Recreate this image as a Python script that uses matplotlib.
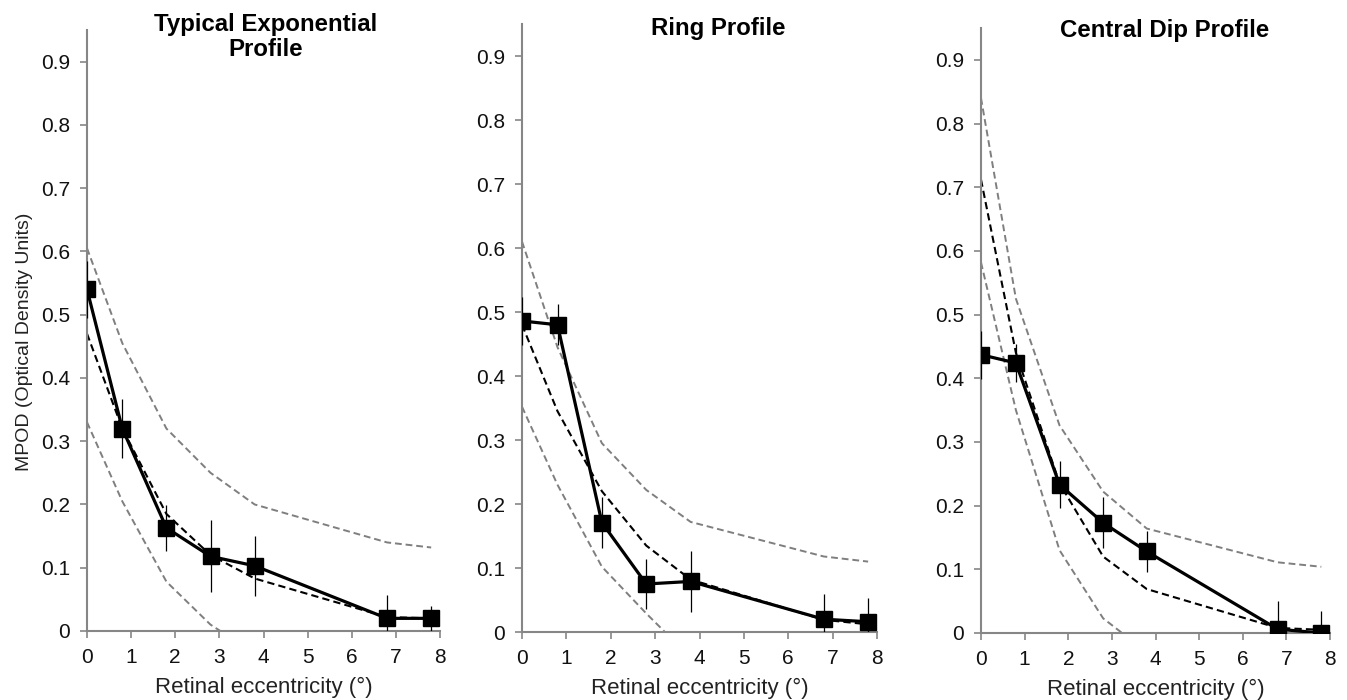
import numpy as np
import matplotlib
matplotlib.use("Agg")
import matplotlib.pyplot as plt

plt.rcParams['font.family'] = ['Liberation Sans', 'DejaVu Sans']

# retinal eccentricity (deg) of each measurement
ecc = [0, 0.8, 1.8, 2.8, 3.8, 6.8, 7.8]

# Typical exponential profile
typ_mean = [0.54, 0.32, 0.163, 0.118, 0.103, 0.02, 0.02]
typ_err = [0.045, 0.047, 0.036, 0.057, 0.047, 0.037, 0.02]
typ_fit = [0.47, 0.32, 0.185, 0.12, 0.083, 0.022, 0.02]
typ_upper = [0.605, 0.455, 0.32, 0.25, 0.20, 0.14, 0.132]
typ_lower = [0.33, 0.205, 0.078, 0.01, -0.035, -0.10, -0.10]

# Ring profile
ring_mean = [0.486, 0.48, 0.171, 0.075, 0.079, 0.02, 0.016]
ring_err = [0.038, 0.032, 0.04, 0.039, 0.047, 0.04, 0.037]
ring_fit = [0.48, 0.345, 0.22, 0.135, 0.082, 0.019, 0.012]
ring_upper = [0.61, 0.445, 0.295, 0.222, 0.172, 0.118, 0.11]
ring_lower = [0.352, 0.23, 0.102, 0.029, -0.04, -0.08, -0.09]

# Central dip profile
dip_mean = [0.437, 0.424, 0.233, 0.173, 0.128, 0.006, 0.0]
dip_err = [0.038, 0.03, 0.037, 0.04, 0.032, 0.045, 0.034]
dip_fit = [0.712, 0.44, 0.235, 0.12, 0.069, 0.008, 0.005]
dip_upper = [0.84, 0.525, 0.326, 0.222, 0.164, 0.111, 0.104]
dip_lower = [0.582, 0.35, 0.13, 0.023, -0.03, -0.09, -0.09]

titles = ["Typical Exponential\nProfile", "Ring Profile", "Central Dip Profile"]
yticks = [0, 0.1, 0.2, 0.3, 0.4, 0.5, 0.6, 0.7, 0.8, 0.9]
xticks = [0, 1, 2, 3, 4, 5, 6, 7, 8]

panels = [
    (typ_mean, typ_err, typ_fit, typ_upper, typ_lower),
    (ring_mean, ring_err, ring_fit, ring_upper, ring_lower),
    (dip_mean, dip_err, dip_fit, dip_upper, dip_lower),
]

W, H = 1347, 700
# axes boxes in pixels: left, right, bottom(y=0), top(y=0.95)
boxes = [(87, 440, 631, 30), (522, 877, 632, 24), (981, 1330, 633, 28)]
title_pos = [(266, 13), (718, 17), (1165, 19)]

fig = plt.figure(figsize=(W / 100, H / 100), dpi=100)
axis_grey = '#868686'

for i, (mean, err, fit, upper, lower) in enumerate(panels):
    l, r, b, t = boxes[i]
    ax = fig.add_axes([l / W, (H - b) / H, (r - l) / W, (b - t) / H])

    ax.plot(ecc, upper, color='#7f7f7f', lw=1.4, ls=(0, (3.5, 2.0)), zorder=2)
    ax.plot(ecc, lower, color='#7f7f7f', lw=1.4, ls=(0, (3.5, 2.0)), zorder=2)
    ax.plot(ecc, fit, color='black', lw=1.5, ls=(0, (3.5, 2.0)), zorder=2)
    ax.errorbar(ecc, mean, yerr=err, fmt='none', ecolor='black',
                elinewidth=0.9, capsize=0, zorder=3)
    ax.plot(ecc, mean, color='black', lw=2.3, marker='s', ms=11, zorder=4)

    ax.set_xlim(0, 8)
    ax.set_ylim(0, 0.95)
    ax.set_xticks(xticks)
    ax.set_yticks(yticks)
    ax.set_yticklabels(['0' if v == 0 else '%.1f' % v for v in yticks])

    for s in ['top', 'right']:
        ax.spines[s].set_visible(False)
    for s in ['left', 'bottom']:
        ax.spines[s].set_color(axis_grey)
        ax.spines[s].set_linewidth(1.5)
    ax.tick_params(axis='both', colors=axis_grey, labelcolor='#111111',
                   labelsize=15, length=5, width=1.2, direction='out', pad=7)

    ax.set_xlabel("Retinal eccentricity (°)", fontsize=16, color='#222222', labelpad=7)
    if i == 0:
        ax.set_ylabel("MPOD (Optical Density Units)", fontsize=14, color='#222222')
        ax.yaxis.set_label_coords(-0.154, 0.481)

    tx, ty = title_pos[i]
    fig.text(tx / W, 1 - ty / H, titles[i], ha='center', va='top',
             fontsize=17.3, fontweight='bold', linespacing=1.1)

fig.savefig("out.png", dpi=100)
